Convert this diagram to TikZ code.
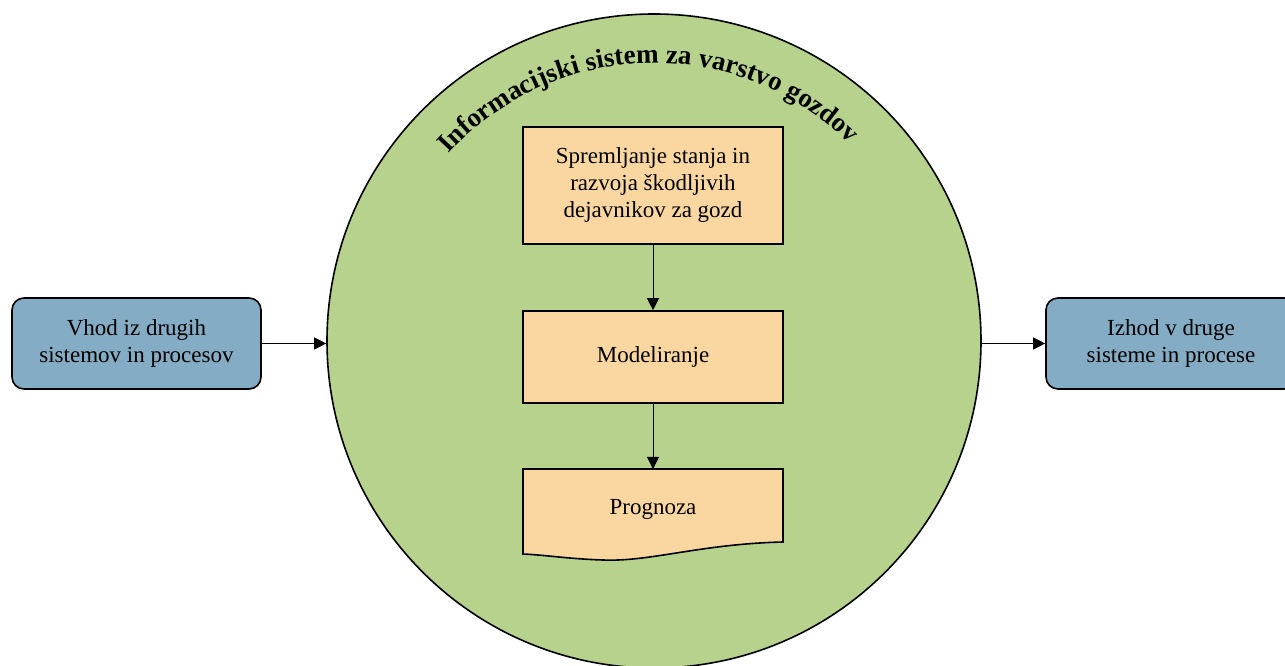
\documentclass[tikz,border=0pt]{standalone}
\usepackage{fontspec}
\setmainfont{Liberation Serif}
\usetikzlibrary{arrows.meta,decorations.text}
\definecolor{forestgreen}{RGB}{183,210,141}
\definecolor{stepfill}{RGB}{250,215,160}
\definecolor{ioblue}{RGB}{132,172,196}
\begin{document}
\begin{tikzpicture}[x=1pt,y=1pt,
  txt/.style={font=\fontsize{23}{27}\selectfont, align=center, text=black},
  procbox/.style={txt, draw, line width=1.6pt, fill=stepfill, minimum width=260pt, inner sep=0pt},
  iobox/.style={txt, draw, line width=1.6pt, fill=ioblue, rounded corners=12pt, minimum height=91pt, inner sep=0pt},
  flow/.style={line width=0.9pt, -{Triangle[length=12pt,width=12pt]}}]
\useasboundingbox (0,0) rectangle (1285,666);

% the information system
\node[circle, draw, line width=1.6pt, fill=forestgreen, minimum size=654pt, inner sep=0pt] (sys) at (654,325) {};
\path[decorate, decoration={text along path, text align=center,
  text={|\bfseries\fontsize{27}{31}\selectfont|Informacijski sistem za varstvo gozdov}}]
  (sys.center) ++(145:278) arc[start angle=145, end angle=38, radius=278];

% process steps
\node[procbox, minimum height=117pt] (mon) at (653,480.5) {Spremljanje stanja in\\razvoja škodljivih\\dejavnikov za gozd};
\node[procbox, minimum height=92pt] (mod) at (653,309) {Modeliranje};

% document-shaped forecast
\draw[line width=1.6pt, fill=stepfill] (523,197) -- (783,197) -- (783,124)
  .. controls (700,122) and (650,104) .. (603,106)
  .. controls (570,107) and (545,111) .. (523,112) -- cycle;
\node[txt, minimum width=260pt, minimum height=80pt, inner sep=0pt, anchor=north] (prog) at (653,197) {Prognoza};

% inputs and outputs
\node[iobox, minimum width=249pt] (in) at (136.5,322.5) {Vhod iz drugih\\sistemov in procesov};
\node[iobox, minimum width=250pt] (out) at (1171,322.5) {Izhod v druge\\sisteme in procese};

% connectors
\draw[flow] (in.east) -- (in.east -| sys.west);
\draw[flow] (sys.east |- out.west) -- (out.west);
\draw[flow] (mon) -- (mod);
\draw[flow] (mod) -- (prog);
\end{tikzpicture}
\end{document}
